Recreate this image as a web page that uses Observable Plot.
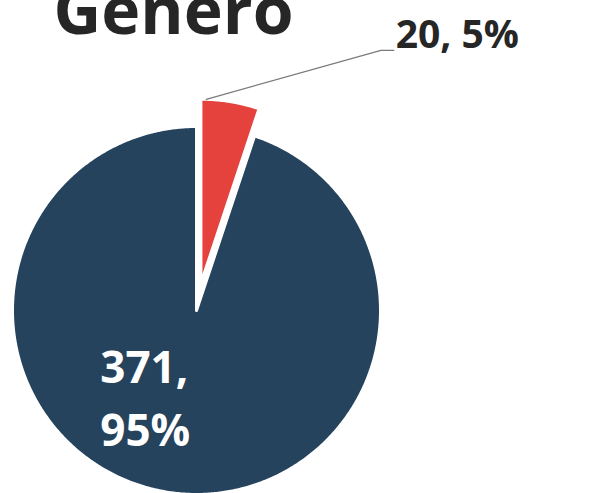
<!DOCTYPE html>
<html>
<head>
<meta charset="utf-8">
<script src="https://cdn.jsdelivr.net/npm/d3@7"></script>
<script src="https://cdn.jsdelivr.net/npm/@observablehq/plot@0.6"></script>
<style>
  html, body { margin: 0; padding: 0; background: #ffffff; }
</style>
</head>
<body>
<div id="chart"></div>
<script>
// ---- data ----
const title = "Genero";
const categories = ["Femenino", "Masculino"];
const values = [20, 371];
const colors = ["#e5413d", "#25435d"];
const explode = [0.15, 0];           // radial offset, in radius units

// ---- layout (pixels) ----
const W = 592, H = 493;
const R = 184, CX = 196, CY = 310;

const total = d3.sum(values);
const fmtPct = v => Math.round(v / total * 100) + "%";

// build slices (clockwise from 12 o'clock, y up, radius = 1)
let acc = 0;
const slices = values.map((v, i) => {
  const a0 = acc / total * 2 * Math.PI;
  acc += v;
  const a1 = acc / total * 2 * Math.PI;
  const mid = (a0 + a1) / 2;
  const ox = explode[i] * Math.sin(mid), oy = explode[i] * Math.cos(mid);
  const pts = [{x: ox, y: oy}];
  const n = Math.max(4, Math.ceil((a1 - a0) / (Math.PI / 360)));
  for (let k = 0; k <= n; k++) {
    const a = a0 + (a1 - a0) * k / n;
    pts.push({x: ox + Math.sin(a), y: oy + Math.cos(a)});
  }
  pts.push({x: ox, y: oy});
  return {cat: categories[i], value: v, color: colors[i], a0, a1, mid, ox, oy, pts,
          label: v + ", " + fmtPct(v)};
});

const red = slices[0], dark = slices[1];

// leader line for the outside label
const aStart = red.a0 + (red.a1 - red.a0) * 0.09;
const leaderPts = [
  {x: red.ox + Math.sin(aStart), y: red.oy + Math.cos(aStart)},
  {x: red.ox + 1.6 * Math.sin(0.658), y: red.oy + 1.6 * Math.cos(0.658)},
];
leaderPts.push({x: leaderPts[1].x + 0.07, y: leaderPts[1].y});
const outLabel = [{x: leaderPts[2].x + 0.01, y: leaderPts[2].y, text: red.label}];

// inside label
const inLabel = [{
  x: dark.ox + 0.55 * Math.sin(dark.mid),
  y: dark.oy + 0.55 * Math.cos(dark.mid),
  text: dark.value + ",\n" + fmtPct(dark.value)
}];

const marks = [];
for (const s of slices) {
  marks.push(Plot.line(s.pts, {x: "x", y: "y", fill: s.color, stroke: "#ffffff",
    strokeWidth: 3, strokeLinejoin: "round"}));
}
marks.push(Plot.line(leaderPts, {x: "x", y: "y", stroke: "#7a7a7a", strokeWidth: 1.3}));
marks.push(Plot.text(outLabel, {x: "x", y: "y", text: "text", textAnchor: "start",
  lineAnchor: "bottom", dy: -2, fontSize: 39, fontWeight: "bold", fill: "#262626"}));
marks.push(Plot.text(inLabel, {x: "x", y: "y", text: "text", textAnchor: "start",
  lineAnchor: "middle", dx: -80, dy: -16, lineHeight: 1.42, fontSize: 44, fontWeight: "bold", fill: "#ffffff"}));
marks.push(Plot.text([title], {frameAnchor: "top-left", text: d => d, textAnchor: "start",
  lineAnchor: "top", dx: 53, dy: -13, fontSize: 66, fontWeight: "bold", fill: "#262626"}));

const chart = Plot.plot({
  width: W, height: H,
  margin: 0,
  style: {fontFamily: "'Open Sans', sans-serif", background: "#ffffff", overflow: "visible"},
  x: {domain: [-CX / R, (W - CX) / R], range: [0, W], axis: null},
  y: {domain: [-(H - CY) / R, CY / R], range: [H, 0], axis: null},
  marks
});
document.getElementById("chart").appendChild(chart);
</script>
</body>
</html>
